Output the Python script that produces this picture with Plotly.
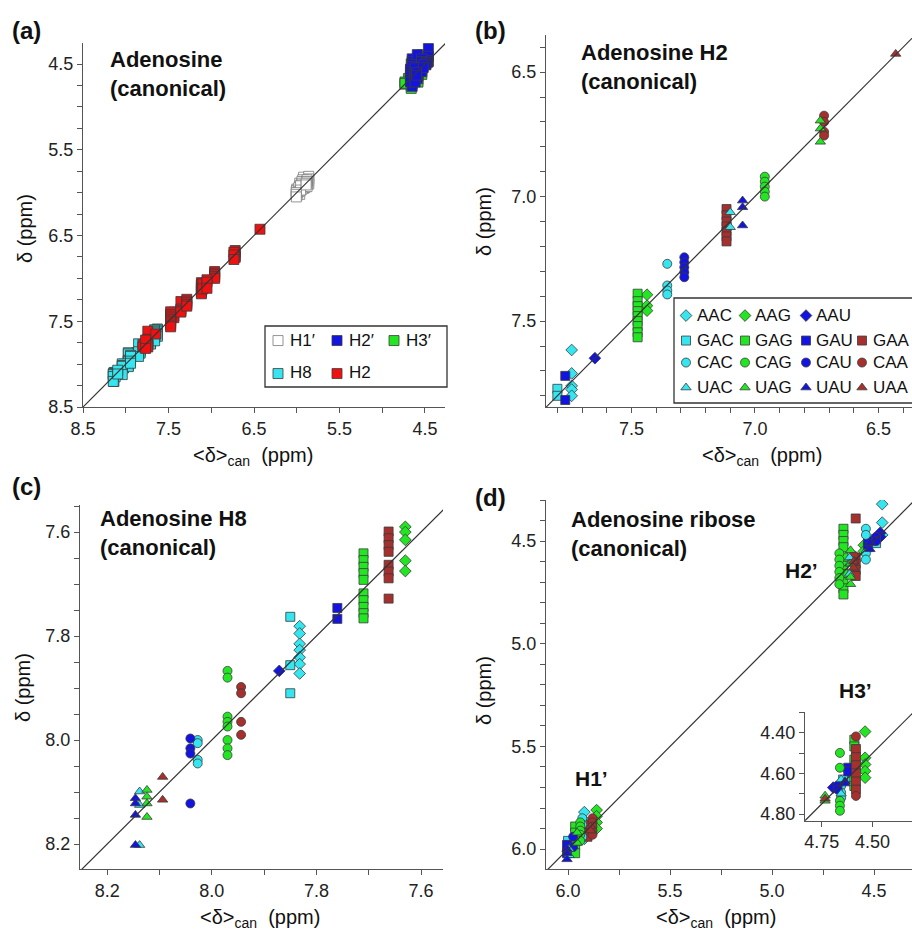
import plotly.graph_objects as go

W, H = 912, 931
FONT = "Liberation Sans, Arial, sans-serif"

CONTEXTS = ["AAC", "AAG", "AAU", "GAC", "GAG", "GAU", "GAA",
            "CAC", "CAG", "CAU", "CAA", "UAC", "UAG", "UAU", "UAA"]

# ---- H2 (panel b): canonical average and observed shifts (ppm) ----
H2_CAN = {"AAC": 7.742, "AAG": 7.437, "AAU": 7.648, "GAC": 7.80, "GAG": 7.475,
          "GAU": 7.768, "GAA": 7.115, "CAC": 7.355, "CAG": 6.96, "CAU": 7.286,
          "CAA": 6.72, "UAC": 7.10, "UAG": 6.735, "UAU": 7.05, "UAA": 6.43}
H2_OBS = {"AAC": [7.616, 7.71, 7.76, 7.775, 7.80],
          "AAG": [7.394, 7.438, 7.458],
          "AAU": [7.649],
          "GAC": [7.772, 7.80],
          "GAG": [7.39, 7.42, 7.44, 7.46, 7.48, 7.50, 7.52, 7.545, 7.565],
          "GAU": [7.72, 7.817],
          "GAA": [7.05, 7.075, 7.10, 7.12, 7.14, 7.16, 7.18],
          "CAC": [7.27, 7.357, 7.377, 7.393],
          "CAG": [6.92, 6.94, 6.96, 6.98, 7.0],
          "CAU": [7.244, 7.264, 7.284, 7.304, 7.324],
          "CAA": [6.675, 6.70, 6.74, 6.755],
          "UAC": [7.063, 7.123],
          "UAG": [6.695, 6.727, 6.78],
          "UAU": [7.016, 7.043, 7.116],
          "UAA": [6.427]}

# ---- H8 (panel c) ----
H8_CAN = {"AAC": 7.832, "AAG": 7.630, "AAU": 7.871, "GAC": 7.85, "GAG": 7.71,
          "GAU": 7.76, "GAA": 7.662, "CAC": 8.027, "CAG": 7.97, "CAU": 8.041,
          "CAA": 7.944, "UAC": 8.138, "UAG": 8.124, "UAU": 8.146, "UAA": 8.094}
H8_OBS = {"AAC": [7.781, 7.795, 7.815, 7.827, 7.841, 7.854, 7.872],
          "AAG": [7.59, 7.60, 7.615, 7.655, 7.675],
          "AAU": [7.867],
          "GAC": [7.763, 7.856, 7.91],
          "GAG": [7.641, 7.654, 7.667, 7.679, 7.692, 7.718, 7.731, 7.744, 7.756, 7.766],
          "GAU": [7.746, 7.767],
          "GAA": [7.599, 7.612, 7.625, 7.638, 7.663, 7.676, 7.689, 7.728],
          "CAC": [8.0, 8.006, 8.038, 8.045],
          "CAG": [7.867, 7.88, 7.955, 7.965, 7.974, 8.0, 8.016, 8.029],
          "CAU": [7.997, 8.016, 8.026, 8.122],
          "CAA": [7.898, 7.91, 7.965, 7.99],
          "UAC": [8.099, 8.125, 8.202],
          "UAG": [8.096, 8.109, 8.122, 8.148],
          "UAU": [8.112, 8.122, 8.144, 8.202],
          "UAA": [8.071, 8.115]}

# ---- H1' (panel d, lower cluster) ----
H1P_CAN = {"AAC": 5.92, "AAG": 5.86, "AAU": 5.99, "GAC": 6.0, "GAG": 5.965,
           "GAU": 6.005, "GAA": 5.905, "CAC": 5.93, "CAG": 5.94, "CAU": 5.975,
           "CAA": 5.88, "UAC": 5.995, "UAG": 5.955, "UAU": 6.005, "UAA": 5.89}
H1P_OBS = {"AAC": [5.82, 5.86, 5.95], "AAG": [5.81, 5.84, 5.87, 5.90],
           "AAU": [5.96, 6.0], "GAC": [5.96, 5.98],
           "GAG": [5.89, 5.92, 5.95, 5.98, 6.02], "GAU": [5.98, 6.02],
           "GAA": [5.88, 5.92, 5.94], "CAC": [5.85, 5.88, 5.94],
           "CAG": [5.87, 5.89, 5.91, 5.93, 5.96], "CAU": [5.94, 5.99],
           "CAA": [5.85, 5.87, 5.89, 5.91, 5.93], "UAC": [6.0, 6.03],
           "UAG": [5.92, 5.97], "UAU": [6.0, 6.02, 6.05], "UAA": [5.89, 5.91]}

# ---- H2' (panel d, upper cluster) ----
H2P_CAN = {"AAC": 4.46, "AAG": 4.55, "AAU": 4.47, "GAC": 4.49, "GAG": 4.65,
           "GAU": 4.53, "GAA": 4.59, "CAC": 4.54, "CAG": 4.67, "CAU": 4.49,
           "CAA": 4.60, "UAC": 4.62, "UAG": 4.615, "UAU": 4.52, "UAA": 4.60}
H2P_OBS = {"AAC": [4.32, 4.41, 4.47], "AAG": [4.52, 4.55],
           "AAU": [4.46, 4.48], "GAC": [4.49, 4.51],
           "GAG": [4.44, 4.47, 4.50, 4.53, 4.58, 4.62, 4.66, 4.70, 4.73, 4.76],
           "GAU": [4.50, 4.53], "GAA": [4.39, 4.58, 4.61, 4.64, 4.67],
           "CAC": [4.44, 4.47, 4.56, 4.59], "CAG": [4.56, 4.59, 4.62, 4.65, 4.68, 4.71],
           "CAU": [4.48, 4.50], "CAA": [4.57, 4.60], "UAC": [4.58, 4.61, 4.66],
           "UAG": [4.545, 4.61, 4.675, 4.71], "UAU": [4.51, 4.54], "UAA": [4.60, 4.63]}

# ---- H3' (inset of panel d) ----
H3P_CAN = {"AAC": 4.63, "AAG": 4.537, "AAU": 4.694, "GAC": 4.645, "GAG": 4.59,
           "GAU": 4.62, "GAA": 4.582, "CAC": 4.655, "CAG": 4.661, "CAU": 4.672,
           "CAA": 4.582, "UAC": 4.655, "UAG": 4.734, "UAU": 4.636, "UAA": 4.734}
H3P_OBS = {"AAC": [4.63], "AAG": [4.394, 4.523, 4.556, 4.589, 4.621],
           "AAU": [4.67], "GAC": [4.63],
           "GAG": [4.434, 4.467, 4.532, 4.63, 4.662], "GAU": [4.572, 4.59],
           "GAA": [4.48, 4.52, 4.56, 4.60, 4.64, 4.68], "CAC": [4.662, 4.694, 4.72],
           "CAG": [4.499, 4.572, 4.735, 4.759, 4.784], "CAU": [4.66, 4.68],
           "CAA": [4.418, 4.711], "UAC": [4.63, 4.70], "UAG": [4.71, 4.735],
           "UAU": [4.64, 4.65], "UAA": [4.725]}

SYMBOL = {"A": "diamond", "G": "square", "C": "circle", "U": "triangle-up"}
COLOR = {"C": "#35E6F0", "G": "#22E622", "U": "#1414E0", "A": "#A5302E"}
EDGE = "#3a3a3a"

# legend grid (pixel layout of the keys)
LEG_A_ROWS = [341, 374]
LEG_A_SYM_X = [278, 337, 394]
LEG_A_TXT_X = [288, 347, 404]
LEG_B_ROWS = [316, 341, 363, 388]
LEG_B_SYM_X = [686, 745, 806, 862]
LEG_B_TXT_X = [695, 753, 814, 871]


def px_x(p):
    return p / W


def px_y(p):
    return 1 - p / H


fig = go.Figure()
legends = {}
leg_labels = []


def new_legend(sym_x, row_y, label, txt_x):
    lid = "legend" if not legends else f"legend{len(legends) + 1}"
    legends[lid] = dict(orientation="v", x=px_x(sym_x - 20), y=px_y(row_y),
                        xanchor="left", yanchor="middle", bgcolor="rgba(0,0,0,0)",
                        borderwidth=0, itemwidth=30,
                        font=dict(size=17, color="#111111", family=FONT))
    leg_labels.append((txt_x, row_y - 1, label))
    return lid


def flat(can, obs, keys=CONTEXTS):
    xs, ys = [], []
    for k in keys:
        xs += [can[k]] * len(obs[k])
        ys += obs[k]
    return xs, ys


def add_contexts(can, obs, xa, ya, size, legend=False):
    for c in CONTEXTS:
        lid = None
        if legend:
            row = "AGCU".index(c[0])
            col = "CGUA".index(c[2])
            lid = new_legend(LEG_B_SYM_X[col], LEG_B_ROWS[row], c, LEG_B_TXT_X[col])
        fig.add_trace(go.Scatter(
            x=[can[c]] * len(obs[c]), y=obs[c], mode="markers",
            xaxis=xa, yaxis=ya, name="" if legend else c,
            showlegend=legend, legend=lid,
            marker=dict(symbol=SYMBOL[c[0]], color=COLOR[c[2]], size=size,
                        line=dict(color=EDGE, width=0.8)),
            hovertemplate=c + ": %{x}, %{y}<extra></extra>"))


def add_diag(xa, ya, rng):
    lo, hi = min(rng), max(rng)
    fig.add_trace(go.Scatter(x=[lo - 1, hi + 1], y=[lo - 1, hi + 1], mode="lines",
                             xaxis=xa, yaxis=ya, showlegend=False, hoverinfo="skip",
                             line=dict(color="#333333", width=1.2)))


# ---- panel (a) ----
SQ = 10
groups_a = [
    ("H1\u2032", H1P_CAN, H1P_OBS, "#ffffff", "#7a7a7a", 0, 0),
    ("H3\u2032", H3P_CAN, H3P_OBS, "#22E622", EDGE, 0, 2),
    ("H2\u2032", H2P_CAN, H2P_OBS, "#1414E0", EDGE, 0, 1),
    ("H8", H8_CAN, H8_OBS, "#35E6F0", EDGE, 1, 0),
    ("H2", H2_CAN, H2_OBS, "#EE1111", EDGE, 1, 1),
]
for name, can, obs, fc, lc, row, col in groups_a:
    xs, ys = flat(can, obs)
    lid = new_legend(LEG_A_SYM_X[col], LEG_A_ROWS[row], name, LEG_A_TXT_X[col])
    fig.add_trace(go.Scatter(x=xs, y=ys, mode="markers", name="", xaxis="x", yaxis="y",
                             legend=lid,
                             hovertemplate=name + ": %{x}, %{y}<extra></extra>",
                             marker=dict(symbol="square", size=SQ, color=fc,
                                         line=dict(color=lc, width=0.8))))

RA_X, RA_Y = [8.5, 4.266], [8.5, 4.255]
RB_X, RB_Y = [7.846, 6.364], [7.845, 6.351]
RC_X, RC_Y = [8.252, 7.558], [8.248, 7.548]
RD_X, RD_Y = [6.108, 4.314], [6.097, 4.300]
RI_X, RI_Y = [4.833, 4.306], [4.833, 4.296]

add_diag("x", "y", RA_X)
add_contexts(H2_CAN, H2_OBS, "x2", "y2", 9, legend=True)
add_diag("x2", "y2", RB_X)
add_contexts(H8_CAN, H8_OBS, "x3", "y3", 9)
add_diag("x3", "y3", RC_X)
add_contexts(H1P_CAN, H1P_OBS, "x4", "y4", 9)
add_contexts(H2P_CAN, H2P_OBS, "x4", "y4", 9)
add_diag("x4", "y4", RD_X)
add_contexts(H3P_CAN, H3P_OBS, "x5", "y5", 9)
add_diag("x5", "y5", RI_X)

AX = dict(showline=True, linecolor="#555555", linewidth=1.2, ticks="outside",
          ticklen=5, tickwidth=1.1, tickcolor="#555555", showgrid=False,
          zeroline=False, automargin=False, tickangle=0,
          tickfont=dict(size=18, color="#222222", family=FONT))


def axis(dom, rng, tick0, dtick, mdtick, fmt, anchor):
    d = dict(AX, domain=dom, range=rng, tickmode="linear", tick0=tick0, dtick=dtick,
             tickformat=fmt, anchor=anchor, autorange=False)
    if mdtick:
        d["minor"] = dict(dtick=mdtick, tick0=tick0, ticks="outside", ticklen=5,
                          tickwidth=1.1, tickcolor="#555555", showgrid=False)
    return d


layout = dict(
    width=W, height=H, margin=dict(l=0, r=0, t=0, b=0, autoexpand=False),
    paper_bgcolor="white", plot_bgcolor="rgba(0,0,0,0)",
    font=dict(family=FONT, size=18, color="#111111"),
    hovermode="closest",
)
layout["xaxis"] = axis([px_x(83), px_x(445)], RA_X, 4.5, 1.0, 0.5, ".1f", "y")
layout["yaxis"] = axis([px_y(407), px_y(43)], RA_Y, 4.5, 1.0, 0.25, ".1f", "x")
layout["xaxis2"] = axis([px_x(546), 1.0], RB_X, 6.5, 0.5, 0.1, ".1f", "y2")
layout["yaxis2"] = axis([px_y(407), px_y(35)], RB_Y, 6.5, 0.5, 0.1, ".1f", "x2")
layout["xaxis3"] = axis([px_x(80), px_x(443)], RC_X, 7.6, 0.2, 0.1, ".1f", "y3")
layout["yaxis3"] = axis([px_y(869), px_y(505)], RC_Y, 7.6, 0.2, 0.05, ".1f", "x3")
layout["xaxis4"] = axis([px_x(546), 1.0], RD_X, 4.5, 0.5, 0.25, ".1f", "y4")
layout["yaxis4"] = axis([px_y(869), px_y(500)], RD_Y, 4.5, 0.5, 0.1, ".1f", "x4")
layout["xaxis5"] = axis([px_x(805), 1.0], RI_X, 4.5, 0.25, None, ".2f", "y5")
layout["yaxis5"] = axis([px_y(820.7), px_y(711.7)], RI_Y, 4.4, 0.2, 0.1, ".2f", "x5")
layout.update(legends)

fig.update_layout(**layout)

shapes = [
    dict(type="rect", xref="paper", yref="paper", x0=px_x(265), x1=px_x(447),
         y0=px_y(387), y1=px_y(326), line=dict(color="#333333", width=1.3), layer="above"),
    dict(type="rect", xref="paper", yref="paper", x0=px_x(674), x1=px_x(930),
         y0=px_y(403), y1=px_y(298), line=dict(color="#333333", width=1.3), layer="above"),
]
fig.update_layout(shapes=shapes)

ann = []


def text(x, y, s, size, bold=False, xanchor="left", angle=0, yanchor="middle"):
    ann.append(dict(xref="paper", yref="paper", x=px_x(x), y=px_y(y),
                    text=f"<b>{s}</b>" if bold else s, showarrow=False,
                    xanchor=xanchor, yanchor=yanchor, align="left", textangle=angle,
                    font=dict(size=size, color="#111111", family=FONT)))


# legend labels
for x, y, s in leg_labels:
    text(x, y, s, 17)

# panel labels
text(10, 30, "(a)", 24, True)
text(473, 30, "(b)", 24, True)
text(10, 486, "(c)", 24, True)
text(473, 497, "(d)", 24, True)
# panel titles
text(108, 74, "Adenosine<br>(canonical)", 22, True)
text(579, 67, "Adenosine H2<br>(canonical)", 22, True)
text(98, 533, "Adenosine H8<br>(canonical)", 22, True)
text(569, 534, "Adenosine ribose<br>(canonical)", 22, True)
# ribose labels
text(801, 570, "H2\u2019", 21, True, "center")
text(591, 778, "H1\u2019", 21, True, "center")
text(855, 690, "H3\u2019", 21, True, "center")
# axis titles
XT = "&lt;\u03b4&gt;<sub>can</sub>\u00a0\u00a0(ppm)"
YT = "\u03b4 (ppm)"
text(253, 457, XT, 20, False, "center")
text(762, 457, XT, 20, False, "center")
text(260, 918, XT, 20, False, "center")
text(716, 918, XT, 20, False, "center")
text(25, 229, YT, 20, False, "center", -90)
text(484, 222, YT, 20, False, "center", -90)
text(23, 688, YT, 20, False, "center", -90)
text(484, 691, YT, 20, False, "center", -90)

fig.update_layout(annotations=ann)
fig.write_html("out.html")
